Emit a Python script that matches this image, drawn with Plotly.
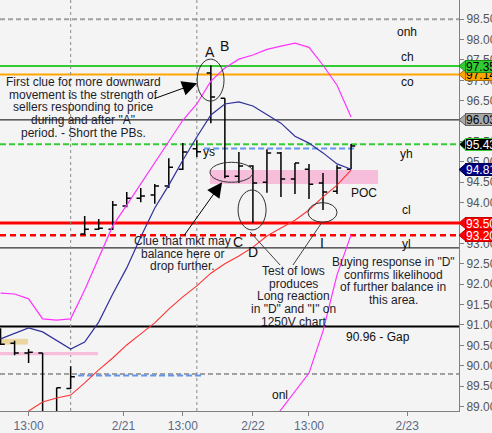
import plotly.graph_objects as go

# axis window (price units / bar index)
Y_LO, Y_HI = 88.89, 98.97
X_LO, X_HI = -0.04, 32.70

# 30-min bars, indexed 0..25
bar_x = list(range(26))
bar_open = [90.80, 90.55, 90.31, 90.31, 88.70, 89.44, 93.23, 93.35, 93.35, 93.92, 94.11, 94.19, 94.41,
            94.82, 95.32, 97.18, 96.56, 94.65, 94.90, 94.50, 95.22, 94.58, 94.82, 94.48, 94.28, 94.82]
bar_high = [90.92, 90.61, 90.41, 90.31, 89.46, 89.99, 93.67, 93.60, 94.04, 94.26, 94.36, 94.46, 95.09,
            95.46, 95.53, 97.37, 96.56, 95.24, 94.92, 95.31, 95.24, 94.97, 94.95, 94.73, 94.92, 95.44]
bar_low = [90.51, 90.26, 90.07, 88.60, 88.60, 89.43, 93.21, 93.33, 93.33, 93.89, 94.01, 93.97, 94.36,
           94.80, 95.12, 95.95, 94.60, 94.48, 93.50, 94.24, 94.14, 94.21, 94.09, 93.82, 94.21, 94.82]
bar_close = [90.53, 90.31, 90.33, 88.70, 89.46, 89.73, 93.35, 93.37, 93.94, 94.11, 94.16, 94.41, 94.87,
             95.24, 95.25, 96.59, 94.65, 94.90, 94.48, 95.22, 94.58, 94.97, 94.45, 94.26, 94.85, 95.39]

# bands
upper_band = [91.78, 91.76, 91.64, 91.15, 91.12, 91.15, 91.86, 92.64, 93.43, 93.94, 94.46, 95.00, 95.51,
              96.02, 96.42, 96.98, 97.30, 97.52, 97.62, 97.76, 97.84, 97.91, 97.81, 97.37, 96.88, 96.10]
mid_line = [90.66, 90.80, 90.93, 90.83, 90.63, 90.41, 90.58, 91.07, 91.76, 92.40, 93.16, 93.87, 94.43,
            95.04, 95.61, 96.15, 96.42, 96.47, 96.37, 96.15, 95.95, 95.63, 95.46, 95.22, 94.95, 94.82]
lower_x = list(range(2, 26))
lower_band = [88.89, 89.11, 89.21, 89.28, 89.58, 89.90, 90.19, 90.51, 90.78, 91.05, 91.39, 91.69,
              91.96, 92.27, 92.50, 92.69, 92.91, 93.18, 93.38, 93.57, 93.82, 94.14, 94.43, 94.80]
outer_x = list(range(19, 26))
outer_low = [88.47, 88.92, 89.36, 89.82, 90.85, 92.23, 93.21]

# reference levels across the chart
level_vals = [98.50, 97.35, 97.14, 96.03, 95.43, 93.50, 93.20, 92.89, 90.96, 89.80]
level_colors = ['#a0a0a0', '#33cc33', '#ffa500', '#000000', '#33cc33', '#ff0000', '#ff0000',
                '#000000', '#000000', '#a0a0a0']
level_widths = [2, 2, 2, 1, 2, 3, 2.5, 1, 2, 2]
level_dash = ['5px,3px', 'solid', 'solid', 'solid', '6px,3px', 'solid', '6px,4px', 'solid', 'solid', '5px,3px']

# price tags on the right axis
tag_vals = [97.14, 97.35, 96.03, 95.43, 94.81, 93.50, 93.20]
tag_fill = ['#ffa500', '#33cc33', '#a8a8a8', '#000000', '#000080', '#ff0000', '#ff0000']
tag_edge = ['#b07000', '#1a8a1a', '#606060', '#33cc33', '#000050', '#c00000', '#c00000']
tag_font = ['black', 'black', 'black', 'white', 'white', 'white', 'white']

tick_x = [2, 8.77, 13, 18, 22, 29]
tick_text = ['13:00', '2/21', '13:00', '2/22', '13:00', '2/23']
session_lines = [5.0, 14.0]

TXT = '#1c1c2c'
FONT = 'Arial, Liberation Sans, sans-serif'

fig = go.Figure()

fig.add_trace(go.Scatter(x=bar_x, y=upper_band, mode='lines', line=dict(color='#ff33ff', width=1.2),
                         hoverinfo='skip'))
fig.add_trace(go.Scatter(x=outer_x, y=outer_low, mode='lines', line=dict(color='#ff33ff', width=1.2),
                         hoverinfo='skip'))
fig.add_trace(go.Scatter(x=bar_x, y=mid_line, mode='lines', line=dict(color='#30309a', width=1.2),
                         hoverinfo='skip'))
fig.add_trace(go.Scatter(x=lower_x, y=lower_band, mode='lines', line=dict(color='#ff3333', width=1.1),
                         hoverinfo='skip'))
fig.add_trace(go.Ohlc(x=bar_x, open=bar_open, high=bar_high, low=bar_low, close=bar_close,
                      increasing=dict(line=dict(color='black', width=1.5)),
                      decreasing=dict(line=dict(color='black', width=1.5)),
                      tickwidth=0.3))

shapes = []
# bands
shapes.append(dict(type='rect', xref='x', yref='y', x0=14.94, x1=26.93, y0=94.46, y1=94.80,
                   fillcolor='#f7bedb', line=dict(width=0), layer='below'))
shapes.append(dict(type='rect', xref='x', yref='y', x0=X_LO, x1=1.96, y0=90.52, y1=90.66,
                   fillcolor='#ebd5a0', line=dict(width=0), layer='below'))
shapes.append(dict(type='rect', xref='x', yref='y', x0=X_LO, x1=6.95, y0=90.26, y1=90.34,
                   fillcolor='#f7bedb', line=dict(width=0), layer='below'))
for v, c, w, d in zip(level_vals, level_colors, level_widths, level_dash):
    shapes.append(dict(type='line', xref='paper', yref='y', x0=0, x1=1, y0=v, y1=v,
                       line=dict(color=c, width=w, dash=d), layer='below'))
# short dashed references
shapes.append(dict(type='line', xref='x', yref='y', x0=14.52, x1=25.43, y0=95.33, y1=95.33,
                   line=dict(color='#6495ed', width=2, dash='6px,3px'), layer='below'))
shapes.append(dict(type='line', xref='x', yref='y', x0=5.53, x1=14.44, y0=89.76, y1=89.76,
                   line=dict(color='#6495ed', width=2, dash='6px,3px'), layer='below'))
for sx in session_lines:
    shapes.append(dict(type='line', xref='x', yref='paper', x0=sx, x1=sx, y0=0, y1=1,
                       line=dict(color='#8a8a8a', width=1, dash='dot'), layer='below'))
# ellipses
for ex0, ex1, ey0, ey1 in [(14.02, 15.94, 96.49, 97.52), (14.94, 18.01, 94.50, 94.99),
                           (16.94, 18.94, 93.33, 94.31), (21.93, 24.00, 93.52, 94.00)]:
    shapes.append(dict(type='circle', xref='x', yref='y', x0=ex0, x1=ex1, y0=ey0, y1=ey1,
                       line=dict(color='#303030', width=1)))
# pointer lines for the "Test of lows" note
shapes.append(dict(type='line', xref='x', yref='y', x0=17.80, y0=93.28, x1=19.94, y1=92.47,
                   line=dict(color='#404040', width=1)))
shapes.append(dict(type='line', xref='x', yref='y', x0=22.93, y0=93.52, x1=20.86, y1=92.47,
                   line=dict(color='#404040', width=1)))
# tag tips
dx, dy = 7 / 459, 6 / 411
for v, f, e in zip(tag_vals, tag_fill, tag_edge):
    yp = (v - Y_LO) / (Y_HI - Y_LO)
    shapes.append(dict(type='path', xref='paper', yref='paper',
                       path=f'M1,{yp} L{1 + dx},{yp + dy} L{1 + dx},{yp - dy} Z',
                       fillcolor=f, line=dict(color=e, width=1), layer='above'))

ann = []


def note(x, y, text, size=12, color=TXT):
    ann.append(dict(x=x, y=y, xref='x', yref='y', text=text, showarrow=False,
                    font=dict(family=FONT, size=size, color=color), xanchor='center', yanchor='middle'))


def block(x, y_top, lines, step=0.31):
    for i, line in enumerate(lines):
        note(x, y_top - i * step, line)


block(5.88, 96.96, ['First clue for more downward', 'movement is the strength of',
                    'sellers responding to price', 'during and after "A"', 'period. - Short the PBs.'])
block(12.95, 93.06, ['Clue that mkt may', 'balance here or', 'drop further.'])
block(20.90, 92.32, ['Test of lows', 'produces', 'Long reaction', 'in "D" and "I" on', '1250V chart'])
block(28.00, 92.54, ['Buying response in "D"', 'confirms likelihood', 'of further balance in', 'this area.'])

for x, y, t in [(29.0, 98.18, 'onh'), (29.0, 97.57, 'ch'), (29.0, 96.96, 'co'), (28.92, 95.19, 'yh'),
                (25.93, 94.24, 'POC'), (28.92, 93.82, 'cl'), (28.92, 92.99, 'yl'),
                (26.93, 90.71, '90.96 - Gap'), (19.94, 89.28, 'onl'), (14.87, 95.24, 'ys')]:
    note(x, y, t, color='#101010')
for x, y, t in [(14.94, 97.69, 'A'), (15.94, 97.84, 'B'), (16.94, 93.03, 'C'), (18.01, 92.79, 'D'),
                (22.93, 93.01, 'I')]:
    note(x, y, t, size=14, color='#101010')

# arrows
for tx, ty, hx, hy in [(10.88, 96.54, 14.02, 96.93), (13.02, 93.16, 15.80, 94.50)]:
    ann.append(dict(x=hx, y=hy, ax=tx, ay=ty, xref='x', yref='y', axref='x', ayref='y', text='',
                    showarrow=True, arrowhead=2, arrowsize=3, arrowwidth=1, arrowcolor='black'))

# tag bodies
for v, f, e, c in zip(tag_vals, tag_fill, tag_edge, tag_font):
    ann.append(dict(x=1, y=v, xref='paper', yref='y', xanchor='left', yanchor='middle', xshift=6,
                    text=f'{v:.2f}', showarrow=False, bgcolor=f, bordercolor=e, borderwidth=1,
                    borderpad=0, width=40, height=11, align='left',
                    font=dict(family=FONT, size=12, color=c)))

fig.update_layout(
    width=492, height=433, template='none',
    margin=dict(l=0, r=33, t=0, b=22),
    paper_bgcolor='#f4f4f4', plot_bgcolor='#f4f4f4',
    showlegend=False, shapes=shapes, annotations=ann,
    xaxis=dict(range=[X_LO, X_HI], tickvals=tick_x, ticktext=tick_text, showgrid=False, zeroline=False,
               showline=True, linecolor='#808080', linewidth=1, ticks='outside', ticklen=4,
               tickcolor='#808080', rangeslider=dict(visible=False), automargin=False,
               tickfont=dict(family=FONT, size=12, color='#5a6a85')),
    yaxis=dict(range=[Y_LO, Y_HI], side='right', tick0=89, dtick=0.5, tickformat='.2f', showgrid=False,
               zeroline=False, showline=True, linecolor='#808080', linewidth=1, ticks='outside',
               ticklen=4, tickcolor='#808080', automargin=False,
               tickfont=dict(family=FONT, size=12, color='#555555')),
)

fig.write_html("out.html", config={'displayModeBar': False},
               post_script="document.body.style.margin='0';document.body.style.overflow='hidden';")
